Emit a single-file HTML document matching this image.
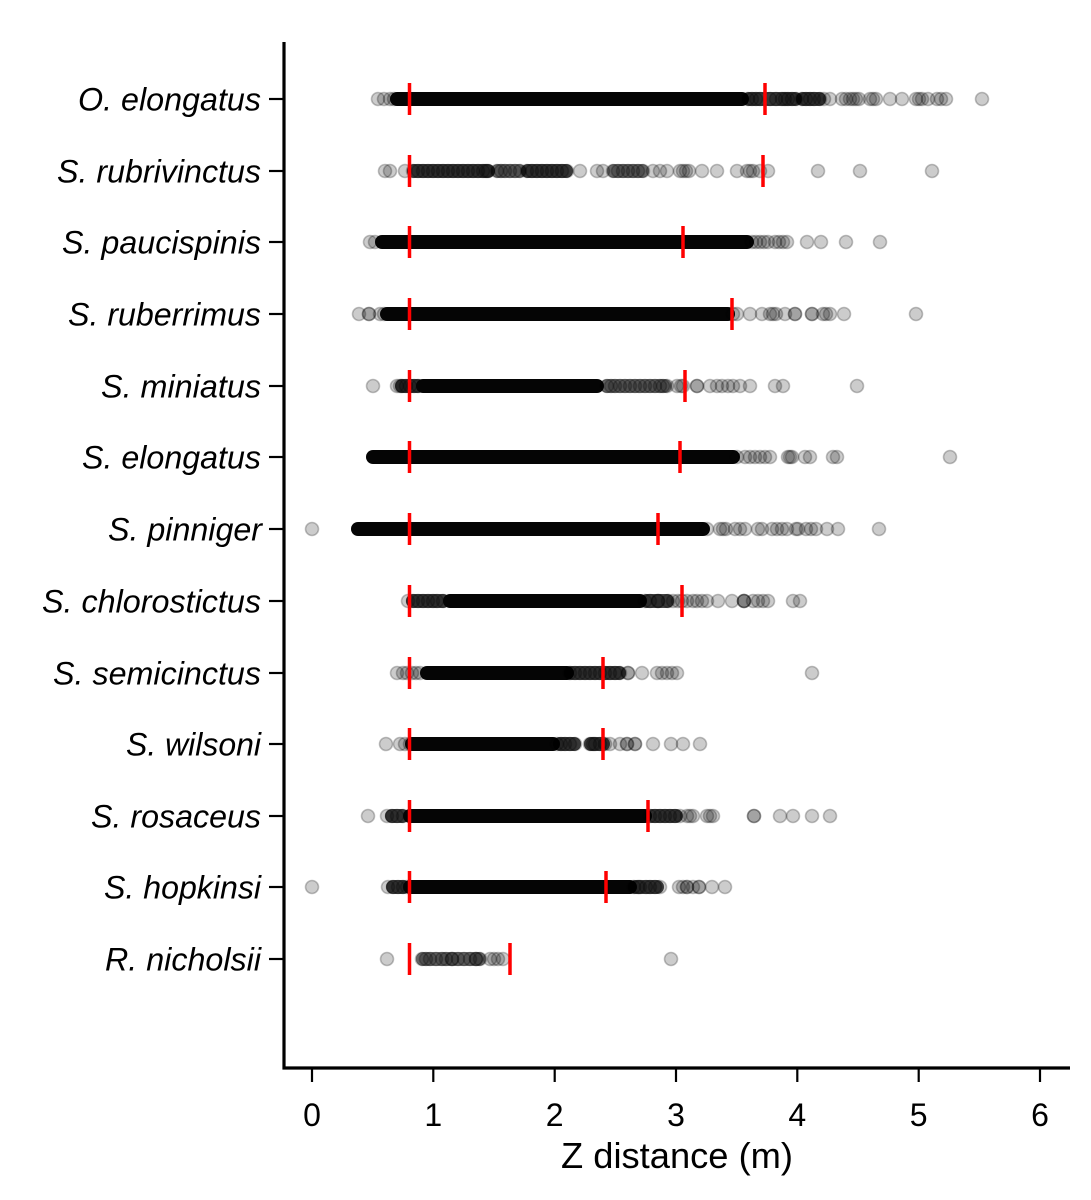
<!DOCTYPE html>
<html><head><meta charset="utf-8"><style>
html,body{margin:0;padding:0;background:#fff;}
svg{display:block;}
circle{fill:rgba(0,0,0,.2);stroke:rgba(0,0,0,.24);stroke-width:1.6;}
rect.s{fill:#050505;}
rect.d{fill:rgba(0,0,0,.72);}
rect.m{fill:rgba(0,0,0,.5);}
line.r{stroke:#ff0000;stroke-width:3.5;}
text.l{font-family:"Liberation Sans",Arial,sans-serif;font-style:italic;font-size:32px;fill:#000;}
text.t{font-family:"Liberation Sans",Arial,sans-serif;font-size:32px;fill:#000;}
</style></head><body>
<svg width="1091" height="1200" viewBox="0 0 1091 1200" xmlns="http://www.w3.org/2000/svg">
<rect width="1091" height="1200" fill="#fff"/>

<!-- Row 1: O. elongatus -->
<g transform="translate(0,99)">
<circle cx="378" r="6.5"/><circle cx="384" r="6.5"/><circle cx="390" r="6.5"/><circle cx="394" r="6.5"/>
<rect class="s" x="390" y="-7" width="359" height="14" rx="7"/>
<rect class="d" x="742" y="-7" width="60" height="14" rx="7"/>
<circle cx="748" r="6.5"/><circle cx="752" r="6.5"/><circle cx="756" r="6.5"/><circle cx="760" r="6.5"/>
<circle cx="770" r="6.5"/><circle cx="776" r="6.5"/><circle cx="782" r="6.5"/><circle cx="785" r="6.5"/><circle cx="788" r="6.5"/><circle cx="792" r="6.5"/><circle cx="796" r="6.5"/>
<rect class="d" x="796" y="-7" width="30" height="14" rx="7"/>
<circle cx="802" r="6.5"/><circle cx="806" r="6.5"/><circle cx="810" r="6.5"/><circle cx="814" r="6.5"/>
<circle cx="820" r="6.5"/><circle cx="824" r="6.5"/><circle cx="830" r="6.5"/>
<circle cx="842" r="6.5"/><circle cx="846" r="6.5"/><circle cx="850" r="6.5"/><circle cx="853" r="6.5"/><circle cx="856" r="6.5"/><circle cx="859" r="6.5"/>
<circle cx="870" r="6.5"/><circle cx="873" r="6.5"/><circle cx="876" r="6.5"/>
<circle cx="890" r="6.5"/><circle cx="902" r="6.5"/>
<circle cx="916" r="6.5"/><circle cx="919" r="6.5"/><circle cx="922" r="6.5"/><circle cx="928" r="6.5"/>
<circle cx="937" r="6.5"/><circle cx="941" r="6.5"/><circle cx="946" r="6.5"/>
<circle cx="982" r="6.5"/>
<line class="r" x1="409.5" y1="-16" x2="409.5" y2="16"/><line class="r" x1="765" y1="-16" x2="765" y2="16"/>
</g>

<!-- Row 2: S. rubrivinctus -->
<g transform="translate(0,171)">
<circle cx="385" r="6.5"/><circle cx="390" r="6.5"/><circle cx="405" r="6.5"/>
<rect class="d" x="407" y="-7" width="88" height="14" rx="7"/>
<circle cx="413" r="6.5"/><circle cx="418" r="6.5"/><circle cx="423" r="6.5"/><circle cx="428" r="6.5"/><circle cx="433" r="6.5"/><circle cx="438" r="6.5"/><circle cx="443" r="6.5"/><circle cx="448" r="6.5"/><circle cx="453" r="6.5"/><circle cx="458" r="6.5"/><circle cx="463" r="6.5"/><circle cx="468" r="6.5"/><circle cx="473" r="6.5"/><circle cx="478" r="6.5"/><circle cx="483" r="6.5"/><circle cx="486" r="6.5"/><circle cx="488" r="6.5"/>
<rect class="m" x="491" y="-7" width="35" height="14" rx="7"/>
<circle cx="497" r="6.5"/><circle cx="501" r="6.5"/><circle cx="505" r="6.5"/><circle cx="510" r="6.5"/><circle cx="515" r="6.5"/><circle cx="520" r="6.5"/>
<rect class="d" x="521" y="-7" width="52" height="14" rx="7"/>
<circle cx="527" r="6.5"/><circle cx="532" r="6.5"/><circle cx="537" r="6.5"/><circle cx="542" r="6.5"/><circle cx="547" r="6.5"/><circle cx="552" r="6.5"/><circle cx="557" r="6.5"/><circle cx="562" r="6.5"/><circle cx="567" r="6.5"/>
<circle cx="580" r="6.5"/><circle cx="597" r="6.5"/><circle cx="603" r="6.5"/>
<rect class="m" x="607" y="-7" width="42" height="14" rx="7"/>
<circle cx="613" r="6.5"/><circle cx="618" r="6.5"/><circle cx="623" r="6.5"/><circle cx="628" r="6.5"/><circle cx="633" r="6.5"/><circle cx="638" r="6.5"/><circle cx="643" r="6.5"/>
<circle cx="653" r="6.5"/><circle cx="660" r="6.5"/><circle cx="667" r="6.5"/>
<circle cx="680" r="6.5"/><circle cx="683" r="6.5"/><circle cx="686" r="6.5"/><circle cx="689" r="6.5"/>
<circle cx="702" r="6.5"/><circle cx="717" r="6.5"/><circle cx="737" r="6.5"/>
<circle cx="747" r="6.5"/><circle cx="750" r="6.5"/><circle cx="753" r="6.5"/><circle cx="760" r="6.5"/><circle cx="768" r="6.5"/>
<circle cx="818" r="6.5"/><circle cx="860" r="6.5"/><circle cx="932" r="6.5"/>
<line class="r" x1="409.5" y1="-16" x2="409.5" y2="16"/><line class="r" x1="763" y1="-16" x2="763" y2="16"/>
</g>

<!-- Row 3: S. paucispinis -->
<g transform="translate(0,242)">
<circle cx="370" r="6.5"/><circle cx="375" r="6.5"/>
<rect class="s" x="375" y="-7" width="379" height="14" rx="7"/>
<circle cx="752" r="6.5"/><circle cx="756" r="6.5"/><circle cx="760" r="6.5"/><circle cx="764" r="6.5"/><circle cx="768" r="6.5"/>
<circle cx="775" r="6.5"/><circle cx="779" r="6.5"/><circle cx="783" r="6.5"/><circle cx="787" r="6.5"/>
<circle cx="807" r="6.5"/><circle cx="821" r="6.5"/><circle cx="846" r="6.5"/><circle cx="880" r="6.5"/>
<line class="r" x1="409.5" y1="-16" x2="409.5" y2="16"/><line class="r" x1="683" y1="-16" x2="683" y2="16"/>
</g>

<!-- Row 4: S. ruberrimus -->
<g transform="translate(0,314)">
<circle cx="359" r="6.5"/><circle cx="369" r="6.5"/><circle cx="369" r="6.5"/><circle cx="380" r="6.5"/><circle cx="384" r="6.5"/>
<rect class="s" x="380" y="-7" width="355" height="14" rx="7"/>
<circle cx="733" r="6.5"/><circle cx="737" r="6.5"/><circle cx="750" r="6.5"/><circle cx="762" r="6.5"/>
<circle cx="770" r="6.5"/><circle cx="773" r="6.5"/><circle cx="776" r="6.5"/><circle cx="785" r="6.5"/>
<circle cx="795" r="6.5"/><circle cx="795" r="6.5"/><circle cx="812" r="6.5"/><circle cx="812" r="6.5"/>
<circle cx="823" r="6.5"/><circle cx="826" r="6.5"/><circle cx="830" r="6.5"/><circle cx="844" r="6.5"/><circle cx="916" r="6.5"/>
<line class="r" x1="409.5" y1="-16" x2="409.5" y2="16"/><line class="r" x1="732" y1="-16" x2="732" y2="16"/>
</g>

<!-- Row 5: S. miniatus -->
<g transform="translate(0,386)">
<circle cx="373" r="6.5"/><circle cx="397" r="6.5"/><circle cx="400" r="6.5"/>
<rect class="d" x="395" y="-7" width="30" height="14" rx="7"/>
<circle cx="402" r="6.5"/><circle cx="406" r="6.5"/><circle cx="410" r="6.5"/><circle cx="414" r="6.5"/><circle cx="418" r="6.5"/>
<rect class="s" x="416" y="-7" width="188" height="14" rx="7"/>
<rect class="m" x="600" y="-7" width="72" height="14" rx="7"/>
<circle cx="607" r="6.5"/><circle cx="611" r="6.5"/><circle cx="615" r="6.5"/><circle cx="620" r="6.5"/><circle cx="625" r="6.5"/><circle cx="630" r="6.5"/><circle cx="635" r="6.5"/><circle cx="640" r="6.5"/><circle cx="645" r="6.5"/><circle cx="650" r="6.5"/><circle cx="655" r="6.5"/><circle cx="660" r="6.5"/><circle cx="663" r="6.5"/><circle cx="667" r="6.5"/>
<circle cx="677" r="6.5"/><circle cx="681" r="6.5"/><circle cx="683" r="6.5"/>
<circle cx="697" r="6.5"/><circle cx="697" r="6.5"/>
<circle cx="710" r="6.5"/><circle cx="717" r="6.5"/><circle cx="722" r="6.5"/><circle cx="728" r="6.5"/><circle cx="733" r="6.5"/><circle cx="740" r="6.5"/><circle cx="750" r="6.5"/>
<circle cx="775" r="6.5"/><circle cx="783" r="6.5"/><circle cx="857" r="6.5"/>
<line class="r" x1="409.5" y1="-16" x2="409.5" y2="16"/><line class="r" x1="685" y1="-16" x2="685" y2="16"/>
</g>

<!-- Row 6: S. elongatus -->
<g transform="translate(0,457)">
<rect class="s" x="366" y="-7" width="374" height="14" rx="7"/>
<circle cx="737" r="6.5"/><circle cx="745" r="6.5"/><circle cx="750" r="6.5"/><circle cx="755" r="6.5"/><circle cx="760" r="6.5"/><circle cx="765" r="6.5"/><circle cx="770" r="6.5"/>
<circle cx="788" r="6.5"/><circle cx="790" r="6.5"/><circle cx="792" r="6.5"/>
<circle cx="805" r="6.5"/><circle cx="810" r="6.5"/><circle cx="833" r="6.5"/><circle cx="837" r="6.5"/><circle cx="950" r="6.5"/>
<line class="r" x1="409.5" y1="-16" x2="409.5" y2="16"/><line class="r" x1="680" y1="-16" x2="680" y2="16"/>
</g>

<!-- Row 7: S. pinniger -->
<g transform="translate(0,529)">
<circle cx="312" r="6.5"/>
<rect class="s" x="351" y="-7" width="359" height="14" rx="7"/>
<circle cx="707" r="6.5"/><circle cx="720" r="6.5"/><circle cx="723" r="6.5"/><circle cx="726" r="6.5"/>
<circle cx="735" r="6.5"/><circle cx="740" r="6.5"/><circle cx="745" r="6.5"/><circle cx="758" r="6.5"/><circle cx="762" r="6.5"/>
<circle cx="772" r="6.5"/><circle cx="777" r="6.5"/><circle cx="782" r="6.5"/><circle cx="787" r="6.5"/>
<circle cx="796" r="6.5"/><circle cx="798" r="6.5"/><circle cx="806" r="6.5"/><circle cx="811" r="6.5"/><circle cx="816" r="6.5"/>
<circle cx="827" r="6.5"/><circle cx="838" r="6.5"/><circle cx="879" r="6.5"/>
<line class="r" x1="409.5" y1="-16" x2="409.5" y2="16"/><line class="r" x1="658" y1="-16" x2="658" y2="16"/>
</g>

<!-- Row 8: S. chlorostictus -->
<g transform="translate(0,601)">
<circle cx="408" r="6.5"/>
<rect class="d" x="406" y="-7" width="44" height="14" rx="7"/>
<circle cx="413" r="6.5"/><circle cx="418" r="6.5"/><circle cx="423" r="6.5"/><circle cx="428" r="6.5"/><circle cx="433" r="6.5"/><circle cx="437" r="6.5"/><circle cx="443" r="6.5"/>
<rect class="s" x="443" y="-7" width="204" height="14" rx="7"/>
<rect class="d" x="640" y="-7" width="34" height="14" rx="7"/>
<circle cx="645" r="6.5"/><circle cx="650" r="6.5"/><circle cx="658" r="6.5"/><circle cx="658" r="6.5"/><circle cx="668" r="6.5"/>
<circle cx="673" r="6.5"/><circle cx="678" r="6.5"/><circle cx="682" r="6.5"/><circle cx="687" r="6.5"/>
<circle cx="693" r="6.5"/><circle cx="697" r="6.5"/><circle cx="702" r="6.5"/><circle cx="707" r="6.5"/>
<circle cx="718" r="6.5"/><circle cx="732" r="6.5"/><circle cx="744" r="6.5"/><circle cx="744" r="6.5"/><circle cx="744" r="6.5"/>
<circle cx="753" r="6.5"/><circle cx="758" r="6.5"/><circle cx="763" r="6.5"/><circle cx="768" r="6.5"/>
<circle cx="793" r="6.5"/><circle cx="800" r="6.5"/>
<line class="r" x1="409.5" y1="-16" x2="409.5" y2="16"/><line class="r" x1="682" y1="-16" x2="682" y2="16"/>
</g>

<!-- Row 9: S. semicinctus -->
<g transform="translate(0,673)">
<circle cx="397" r="6.5"/><circle cx="403" r="6.5"/><circle cx="407" r="6.5"/><circle cx="412" r="6.5"/><circle cx="416" r="6.5"/><circle cx="420" r="6.5"/>
<rect class="s" x="420" y="-7" width="154" height="14" rx="7"/>
<rect class="d" x="564" y="-7" width="62" height="14" rx="7"/>
<circle cx="570" r="6.5"/><circle cx="575" r="6.5"/><circle cx="580" r="6.5"/><circle cx="585" r="6.5"/><circle cx="590" r="6.5"/><circle cx="595" r="6.5"/><circle cx="600" r="6.5"/><circle cx="605" r="6.5"/><circle cx="610" r="6.5"/><circle cx="615" r="6.5"/><circle cx="620" r="6.5"/>
<circle cx="628" r="6.5"/><circle cx="628" r="6.5"/><circle cx="642" r="6.5"/>
<circle cx="657" r="6.5"/><circle cx="662" r="6.5"/><circle cx="667" r="6.5"/><circle cx="672" r="6.5"/><circle cx="677" r="6.5"/>
<circle cx="812" r="6.5"/>
<line class="r" x1="409.5" y1="-16" x2="409.5" y2="16"/><line class="r" x1="603" y1="-16" x2="603" y2="16"/>
</g>

<!-- Row 10: S. wilsoni -->
<g transform="translate(0,744)">
<circle cx="386" r="6.5"/><circle cx="400" r="6.5"/><circle cx="405" r="6.5"/><circle cx="410" r="6.5"/>
<rect class="s" x="405" y="-7" width="155" height="14" rx="7"/>
<rect class="d" x="553" y="-7" width="28" height="14" rx="7"/>
<circle cx="557" r="6.5"/><circle cx="561" r="6.5"/><circle cx="565" r="6.5"/><circle cx="570" r="6.5"/><circle cx="575" r="6.5"/>
<rect class="d" x="584" y="-7" width="26" height="14" rx="7"/>
<circle cx="590" r="6.5"/><circle cx="593" r="6.5"/><circle cx="595" r="6.5"/><circle cx="600" r="6.5"/><circle cx="605" r="6.5"/>
<circle cx="610" r="6.5"/><circle cx="620" r="6.5"/><circle cx="627" r="6.5"/><circle cx="627" r="6.5"/><circle cx="635" r="6.5"/><circle cx="635" r="6.5"/>
<circle cx="653" r="6.5"/><circle cx="671" r="6.5"/><circle cx="683" r="6.5"/><circle cx="700" r="6.5"/>
<line class="r" x1="409.5" y1="-16" x2="409.5" y2="16"/><line class="r" x1="603" y1="-16" x2="603" y2="16"/>
</g>

<!-- Row 11: S. rosaceus -->
<g transform="translate(0,816)">
<circle cx="368" r="6.5"/><circle cx="387" r="6.5"/><circle cx="392" r="6.5"/><circle cx="397" r="6.5"/><circle cx="403" r="6.5"/>
<rect class="d" x="385" y="-7" width="24" height="14" rx="7"/>
<rect class="s" x="403" y="-7" width="249" height="14" rx="7"/>
<rect class="d" x="645" y="-7" width="38" height="14" rx="7"/>
<circle cx="650" r="6.5"/><circle cx="655" r="6.5"/><circle cx="660" r="6.5"/><circle cx="665" r="6.5"/><circle cx="670" r="6.5"/><circle cx="675" r="6.5"/><circle cx="680" r="6.5"/>
<circle cx="687" r="6.5"/><circle cx="690" r="6.5"/><circle cx="693" r="6.5"/>
<circle cx="707" r="6.5"/><circle cx="710" r="6.5"/><circle cx="713" r="6.5"/>
<circle cx="754" r="6.5"/><circle cx="754" r="6.5"/><circle cx="780" r="6.5"/><circle cx="793" r="6.5"/><circle cx="812" r="6.5"/><circle cx="830" r="6.5"/>
<line class="r" x1="409.5" y1="-16" x2="409.5" y2="16"/><line class="r" x1="648" y1="-16" x2="648" y2="16"/>
</g>

<!-- Row 12: S. hopkinsi -->
<g transform="translate(0,887)">
<circle cx="312" r="6.5"/>
<circle cx="388" r="6.5"/><circle cx="393" r="6.5"/><circle cx="398" r="6.5"/><circle cx="403" r="6.5"/><circle cx="407" r="6.5"/>
<rect class="d" x="386" y="-7" width="24" height="14" rx="7"/>
<rect class="s" x="403" y="-7" width="234" height="14" rx="7"/>
<rect class="d" x="628" y="-7" width="36" height="14" rx="7"/>
<circle cx="634" r="6.5"/><circle cx="638" r="6.5"/><circle cx="640" r="6.5"/><circle cx="646" r="6.5"/><circle cx="650" r="6.5"/><circle cx="655" r="6.5"/><circle cx="660" r="6.5"/>
<circle cx="679" r="6.5"/><circle cx="683" r="6.5"/><circle cx="687" r="6.5"/><circle cx="687" r="6.5"/>
<circle cx="693" r="6.5"/><circle cx="699" r="6.5"/><circle cx="699" r="6.5"/><circle cx="712" r="6.5"/><circle cx="725" r="6.5"/>
<line class="r" x1="409.5" y1="-16" x2="409.5" y2="16"/><line class="r" x1="606" y1="-16" x2="606" y2="16"/>
</g>

<!-- Row 13: R. nicholsii -->
<g transform="translate(0,959)">
<circle cx="387" r="6.5"/>
<rect class="m" x="416" y="-7" width="70" height="14" rx="7"/>
<circle cx="422" r="6.5"/><circle cx="426" r="6.5"/><circle cx="430" r="6.5"/><circle cx="436" r="6.5"/><circle cx="442" r="6.5"/><circle cx="446" r="6.5"/><circle cx="452" r="6.5"/><circle cx="452" r="6.5"/><circle cx="458" r="6.5"/><circle cx="464" r="6.5"/><circle cx="470" r="6.5"/><circle cx="476" r="6.5"/><circle cx="476" r="6.5"/><circle cx="480" r="6.5"/>
<circle cx="490" r="6.5"/><circle cx="494" r="6.5"/><circle cx="498" r="6.5"/><circle cx="503" r="6.5"/>
<circle cx="671" r="6.5"/>
<line class="r" x1="409.5" y1="-16" x2="409.5" y2="16"/><line class="r" x1="510" y1="-16" x2="510" y2="16"/>
</g>

<!-- Axes -->
<line x1="284" y1="42" x2="284" y2="1069.5" stroke="#000" stroke-width="3.2"/>
<line x1="282.5" y1="1068" x2="1070" y2="1068" stroke="#000" stroke-width="3.2"/>

<!-- Y ticks -->
<g stroke="#000" stroke-width="2.2">
<line x1="269" y1="99" x2="284" y2="99"/>
<line x1="269" y1="171" x2="284" y2="171"/>
<line x1="269" y1="242" x2="284" y2="242"/>
<line x1="269" y1="314" x2="284" y2="314"/>
<line x1="269" y1="386" x2="284" y2="386"/>
<line x1="269" y1="457" x2="284" y2="457"/>
<line x1="269" y1="529" x2="284" y2="529"/>
<line x1="269" y1="601" x2="284" y2="601"/>
<line x1="269" y1="673" x2="284" y2="673"/>
<line x1="269" y1="744" x2="284" y2="744"/>
<line x1="269" y1="816" x2="284" y2="816"/>
<line x1="269" y1="887" x2="284" y2="887"/>
<line x1="269" y1="959" x2="284" y2="959"/>
</g>

<!-- X ticks -->
<g stroke="#000" stroke-width="2.2">
<line x1="312" y1="1069" x2="312" y2="1082"/>
<line x1="433.3" y1="1069" x2="433.3" y2="1082"/>
<line x1="554.7" y1="1069" x2="554.7" y2="1082"/>
<line x1="676" y1="1069" x2="676" y2="1082"/>
<line x1="797.3" y1="1069" x2="797.3" y2="1082"/>
<line x1="918.7" y1="1069" x2="918.7" y2="1082"/>
<line x1="1040" y1="1069" x2="1040" y2="1082"/>
</g>

<!-- Y labels -->
<g text-anchor="end">
<text class="l" x="261" y="110.5" textLength="183" lengthAdjust="spacingAndGlyphs">O. elongatus</text>
<text class="l" x="261" y="182.5" textLength="204" lengthAdjust="spacingAndGlyphs">S. rubrivinctus</text>
<text class="l" x="261" y="253.5" textLength="199" lengthAdjust="spacingAndGlyphs">S. paucispinis</text>
<text class="l" x="261" y="325.5" textLength="193" lengthAdjust="spacingAndGlyphs">S. ruberrimus</text>
<text class="l" x="261" y="397.5" textLength="160" lengthAdjust="spacingAndGlyphs">S. miniatus</text>
<text class="l" x="261" y="468.5" textLength="179" lengthAdjust="spacingAndGlyphs">S. elongatus</text>
<text class="l" x="262" y="540.5" textLength="154" lengthAdjust="spacingAndGlyphs">S. pinniger</text>
<text class="l" x="261" y="612.5" textLength="219" lengthAdjust="spacingAndGlyphs">S. chlorostictus</text>
<text class="l" x="261" y="684.5" textLength="208" lengthAdjust="spacingAndGlyphs">S. semicinctus</text>
<text class="l" x="261" y="755.5" textLength="135" lengthAdjust="spacingAndGlyphs">S. wilsoni</text>
<text class="l" x="261" y="827.5" textLength="170" lengthAdjust="spacingAndGlyphs">S. rosaceus</text>
<text class="l" x="261" y="898.5" textLength="157" lengthAdjust="spacingAndGlyphs">S. hopkinsi</text>
<text class="l" x="261" y="970.5" textLength="156" lengthAdjust="spacingAndGlyphs">R. nicholsii</text>
</g>

<!-- X labels -->
<g text-anchor="middle">
<text class="t" x="312" y="1126">0</text>
<text class="t" x="433.3" y="1126">1</text>
<text class="t" x="554.7" y="1126">2</text>
<text class="t" x="676" y="1126">3</text>
<text class="t" x="797.3" y="1126">4</text>
<text class="t" x="918.7" y="1126">5</text>
<text class="t" x="1040" y="1126">6</text>
<text class="t" x="677" y="1168" style="font-size:36px" textLength="232" lengthAdjust="spacingAndGlyphs">Z distance (m)</text>
</g>
</svg>
</body></html>
